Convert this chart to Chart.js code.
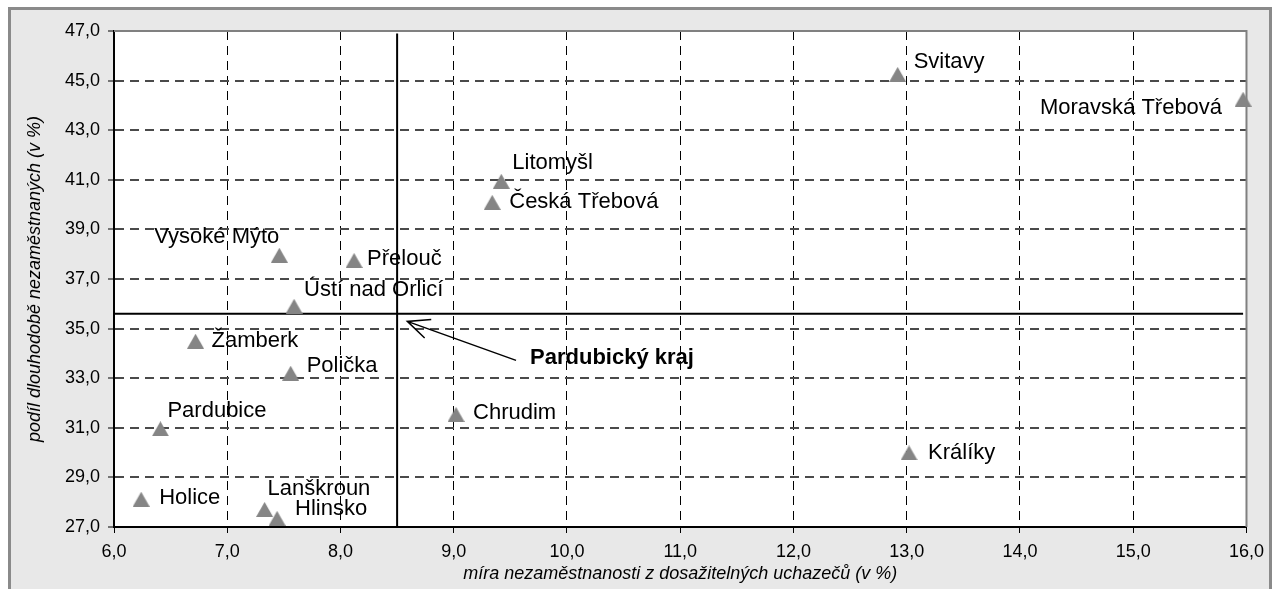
<!DOCTYPE html>
<html lang="cs">
<head>
<meta charset="utf-8">
<title>Okresy Pardubického kraje</title>
<script src="https://cdn.jsdelivr.net/npm/chart.js@4.4.1/dist/chart.umd.min.js"></script>
<style>
  html, body { margin: 0; padding: 0; background: #fff; }
  #wrap { width: 1272px; height: 589px; position: relative; }
</style>
</head>
<body>
<div id="wrap"><canvas id="chart"></canvas></div>
<script>
// obce s pověřeným obecním úřadem (správní obvody ORP)
const towns = [
  'Svitavy', 'Moravská Třebová', 'Litomyšl', 'Česká Třebová', 'Vysoké Mýto',
  'Přelouč', 'Ústí nad Orlicí', 'Žamberk', 'Polička', 'Pardubice',
  'Chrudim', 'Králíky', 'Holice', 'Lanškroun', 'Hlinsko'
];
// míra nezaměstnanosti (v %)
const unemployment = [
  12.92, 15.97, 9.42, 9.34, 7.46,
  8.12, 7.59, 6.72, 7.56, 6.41,
  9.02, 13.02, 6.24, 7.33, 7.44
];
// podíl dlouhodobě nezaměstnaných (v %)
const longTermShare = [
  45.25, 44.25, 40.94, 40.09, 37.96,
  37.75, 35.9, 34.49, 33.2, 30.96,
  31.54, 29.99, 28.12, 27.71, 27.35
];
// průměr kraje
const regionName = 'Pardubický kraj';
const regionUnemployment = 8.5;
const regionLongTerm = 35.6;

const xTickValues = [6, 7, 8, 9, 10, 11, 12, 13, 14, 15, 16];
const yTickValues = [27, 29, 31, 33, 35, 37, 39, 41, 43, 45, 47];

// where each town's label sits relative to its marker: [dx, dy, align]
const labelPlace = [
  [16, -12, 'left'], [-21, 9, 'right'], [11, -18, 'left'], [17, 0, 'left'], [0, -18, 'right'],
  [13, -1, 'left'], [10, -16, 'left'], [16, 0, 'left'], [16, -7, 'left'], [7, -18, 'left'],
  [17, -1, 'left'], [19, 0, 'left'], [18, -1, 'left'], [3, -20, 'left'], [18, -9, 'left']
];
// arrow pointing to the regional average
const arrowFrom = { x: 9.55, y: 33.72 };
const arrowTo = { x: 8.59, y: 35.29 };

const FONT = "'Liberation Sans', Arial, sans-serif";
const fmt = v => Number(v).toFixed(1).replace('.', ',');

// grey triangle marker, centred on its box like the original
const tri = document.createElement('canvas');
tri.width = 17;
tri.height = 15;
(function() {
  const c = tri.getContext('2d');
  c.fillStyle = '#858585';
  c.beginPath();
  c.moveTo(0, 15);
  c.lineTo(8.5, 0);
  c.lineTo(17, 15);
  c.closePath();
  c.fill();
})();

const framePlugin = {
  id: 'frame',
  beforeDraw(chart) {
    const { ctx, width, height, chartArea: a } = chart;
    ctx.save();
    ctx.fillStyle = '#fff';
    ctx.fillRect(0, 0, width, height);
    ctx.fillStyle = '#e8e8e8';
    ctx.fillRect(9.5, 8.5, width - 11, height + 20);
    ctx.strokeStyle = '#8a8a8a';
    ctx.lineWidth = 3;
    ctx.strokeRect(9.5, 8.5, width - 11, height + 20);
    ctx.fillStyle = '#fff';
    ctx.fillRect(a.left, a.top, a.right - a.left, a.bottom - a.top);
    ctx.restore();
  },
  beforeDatasetsDraw(chart) {
    const { ctx, chartArea: a } = chart;
    ctx.save();
    ctx.strokeStyle = '#808080';
    ctx.lineWidth = 2;
    ctx.beginPath();
    ctx.moveTo(a.left, a.top);
    ctx.lineTo(a.right, a.top);
    ctx.lineTo(a.right, a.bottom);
    ctx.stroke();
    ctx.restore();
  }
};

const labelPlugin = {
  id: 'townLabels',
  afterDatasetsDraw(chart) {
    const { ctx, scales } = chart;
    const pts = chart.getDatasetMeta(0).data;
    ctx.save();
    ctx.fillStyle = '#000';
    ctx.font = '22px ' + FONT;
    ctx.textBaseline = 'middle';
    pts.forEach((p, i) => {
      const [dx, dy, align] = labelPlace[i];
      ctx.textAlign = align;
      ctx.fillText(towns[i], p.x + dx, p.y + dy);
    });

    // arrow + regional label
    const x1 = scales.x.getPixelForValue(arrowFrom.x);
    const y1 = scales.y.getPixelForValue(arrowFrom.y);
    const x2 = scales.x.getPixelForValue(arrowTo.x);
    const y2 = scales.y.getPixelForValue(arrowTo.y);
    ctx.strokeStyle = '#000';
    ctx.lineWidth = 1.5;
    ctx.beginPath();
    ctx.moveTo(x1, y1);
    ctx.lineTo(x2, y2);
    const ang = Math.atan2(y1 - y2, x1 - x2);
    const head = 24, spread = 24 * Math.PI / 180;
    ctx.moveTo(x2 + head * Math.cos(ang - spread), y2 + head * Math.sin(ang - spread));
    ctx.lineTo(x2, y2);
    ctx.lineTo(x2 + head * Math.cos(ang + spread), y2 + head * Math.sin(ang + spread));
    ctx.stroke();
    ctx.font = 'bold 22px ' + FONT;
    ctx.textAlign = 'left';
    ctx.fillText(regionName, x1 + 14, y1 - 2);
    ctx.restore();
  }
};

const edgeClear = (edges, col) => ctx =>
  ctx.tick && edges.includes(ctx.tick.value) ? 'rgba(0,0,0,0)' : col;

new Chart(document.getElementById('chart'), {
  type: 'scatter',
  data: {
    datasets: [
      {
        label: 'ORP',
        data: towns.map((t, i) => ({ x: unemployment[i], y: longTermShare[i] })),
        pointStyle: tri,
        pointRadius: 8,
        clip: false
      },
      {
        label: 'průměr kraje – nezaměstnanost',
        type: 'line',
        data: [{ x: regionUnemployment, y: 27 }, { x: regionUnemployment, y: 46.9 }],
        borderColor: '#000',
        borderWidth: 2,
        pointRadius: 0
      },
      {
        label: 'průměr kraje – dlouhodobí',
        type: 'line',
        data: [{ x: 6, y: regionLongTerm }, { x: 15.97, y: regionLongTerm }],
        borderColor: '#000',
        borderWidth: 2,
        pointRadius: 0
      }
    ]
  },
  options: {
    responsive: true,
    maintainAspectRatio: false,
    animation: false,
    layout: { padding: { top: 31, right: 20, left: 0, bottom: 0 } },
    plugins: { legend: { display: false }, tooltip: { enabled: false } },
    scales: {
      x: {
        type: 'linear',
        min: 6,
        max: 16,
        afterFit: s => { s.height = 62; },
        afterBuildTicks: s => { s.ticks = xTickValues.map(v => ({ value: v })); },
        ticks: { font: { family: FONT, size: 18 }, color: '#000', padding: 8, callback: fmt, maxRotation: 0 },
        grid: { color: edgeClear([6, 16], '#000'), lineWidth: 1, tickLength: 6, tickColor: '#000', tickWidth: 1 },
        border: { color: '#000', width: 2, dash: [9, 6] },
        title: {
          display: true,
          text: 'míra nezaměstnanosti z dosažitelných uchazečů (v %)',
          font: { family: FONT, size: 18, style: 'italic' },
          color: '#000',
          padding: { top: 0, bottom: 4 }
        }
      },
      y: {
        type: 'linear',
        min: 27,
        max: 47,
        afterFit: s => { s.width = 114; },
        afterBuildTicks: s => { s.ticks = yTickValues.map(v => ({ value: v })); },
        ticks: { font: { family: FONT, size: 18 }, color: '#000', padding: 8, callback: fmt },
        grid: { color: edgeClear([27, 47], '#4a4a4a'), lineWidth: 2, tickLength: 6, tickColor: '#000', tickWidth: 1 },
        border: { color: '#000', width: 2, dash: [9, 6] },
        title: {
          display: true,
          text: 'podíl dlouhodobě nezaměstnaných (v %)',
          font: { family: FONT, size: 18, style: 'italic' },
          color: '#000',
          padding: { top: 24, bottom: 0 }
        }
      }
    }
  },
  plugins: [framePlugin, labelPlugin]
});
</script>
</body>
</html>
